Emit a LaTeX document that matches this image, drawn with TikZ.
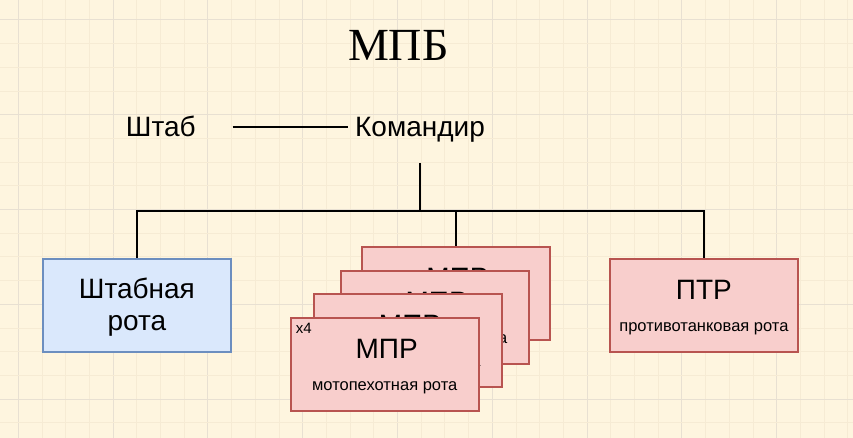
\documentclass[tikz,border=0pt]{standalone}
\usepackage{fontspec}
\setmainfont{Liberation Sans}
\newfontfamily\titlefont{Liberation Serif}
\definecolor{bg}{HTML}{FEF5DF}
\definecolor{gridminor}{HTML}{F6EBD4}
\definecolor{gridmajor}{HTML}{E8E0D2}
\definecolor{bluefill}{HTML}{DAE8FC}
\definecolor{bluestroke}{HTML}{6C8EBF}
\definecolor{redfill}{HTML}{F8CECC}
\definecolor{redstroke}{HTML}{B85450}
\tikzset{
  unitbox/.style={rectangle, minimum width=188bp, minimum height=93bp, line width=2bp, inner sep=0pt},
  bluebox/.style={unitbox, draw=bluestroke, fill=bluefill},
  redbox/.style={unitbox, draw=redstroke, fill=redfill},
  bigtxt/.style={anchor=base, inner sep=0pt, font=\fontsize{28bp}{32bp}\selectfont},
  smalltxt/.style={anchor=base, inner sep=0pt, font=\fontsize{16.5bp}{19bp}\selectfont},
  toptxt/.style={minimum width=143bp, minimum height=72bp, text height=20bp, text depth=0pt, inner sep=0pt, font=\fontsize{28bp}{32bp}\selectfont},
  conn/.style={line width=2bp, black}
}
\begin{document}
\begin{tikzpicture}[x=1bp, y=-1bp]
\useasboundingbox (0,0) rectangle (853,438);
\fill[bg] (0,0) rectangle (853,438);
% grid
\foreach \k in {0,...,37} {
  \pgfmathsetmacro{\gx}{-5.4+23.7*\k}
  \pgfmathtruncatemacro{\mj}{mod(\k+3,4)}
  \ifnum\mj=0
    \draw[gridmajor, line width=1bp] (\gx,0) -- (\gx,438);
  \else
    \draw[gridminor, line width=1bp] (\gx,0) -- (\gx,438);
  \fi
}
\foreach \k in {0,...,19} {
  \pgfmathsetmacro{\gy}{-3.7+23.7*\k}
  \pgfmathtruncatemacro{\mj}{mod(\k+3,4)}
  \ifnum\mj=0
    \draw[gridmajor, line width=1bp] (0,\gy) -- (853,\gy);
  \else
    \draw[gridminor, line width=1bp] (0,\gy) -- (853,\gy);
  \fi
}
% title
\node[anchor=base, inner sep=0pt, font=\titlefont\fontsize{46bp}{50bp}\selectfont] (title) at (398.3,60.2) {МПБ};
% top row
\node[toptxt] (shtab) at (160.8,126.7) {Штаб};
\node[toptxt] (cmd) at (420,126.7) {Командир};
\draw[conn] (shtab.east) -- (cmd.west);
% boxes
\node[bluebox] (hq) at (136.9,305.2) {};
\node[bigtxt] (hqa) at (136.9,299) {Штабная};
\node[bigtxt] (hqb) at (136.9,331) {рота};

\node[redbox] (ptr) at (703.9,305.2) {};
\node[bigtxt] (ptra) at (703.9,300) {ПТР};
\node[smalltxt] (ptrb) at (703.9,331.7) {противотанковая рота};

\node[redbox] (m1) at (455.5,293.2) {};
\node[bigtxt] (m1a) at (457.5,287.2) {МПР};
\node[smalltxt] (m1b) at (455.5,319.7) {мотопехотная рота};

\node[redbox] (m2) at (434.7,317.2) {};
\node[bigtxt] (m2a) at (436.7,311.2) {МПР};
\node[smalltxt] (m2b) at (434.7,343.7) {мотопехотная рота};

\node[redbox] (m3) at (408,340.5) {};
\node[bigtxt] (m3a) at (410,334.5) {МПР};
\node[smalltxt] (m3b) at (408,367) {мотопехотная рота};

\node[redbox] (m4) at (384.7,364.2) {};
\node[bigtxt] (m4a) at (386.7,358.2) {МПР};
\node[smalltxt] (m4b) at (384.7,390.7) {мотопехотная рота};
\node[anchor=base west, inner sep=0pt, font=\fontsize{15bp}{17bp}\selectfont] (cnt) at (295.7,334) {x4};

% connectors
\coordinate (bus) at (420,210.7);
\draw[conn] (cmd.south) -- (bus);
\draw[conn] (hq.north) |- (bus) -| (ptr.north);
\draw[conn] (m1.north) -- (m1.north |- bus);
\end{tikzpicture}
\end{document}
